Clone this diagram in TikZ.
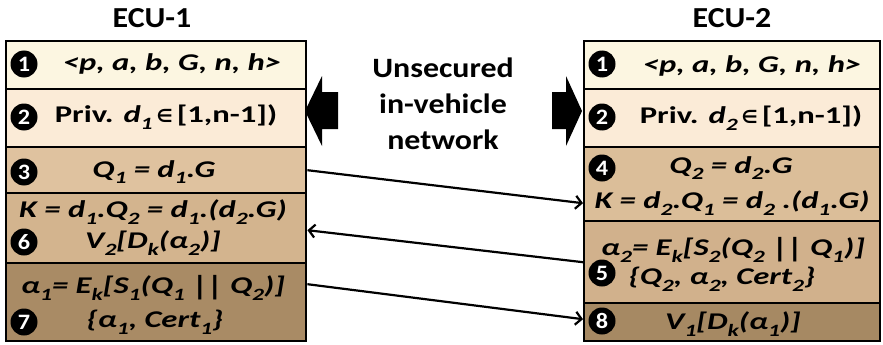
\documentclass[tikz,border=0pt]{standalone}
\usepackage{fontspec}
\setmainfont{Carlito}
\newfontfamily\rowfont[FakeStretch=1.36]{Carlito}
\newfontfamily\ecufont[FakeStretch=1.1]{Carlito}
\newfontfamily\netfont[FakeStretch=1.14]{Carlito}
\newfontfamily\numfont[FakeStretch=1.1]{Carlito}
\newfontfamily\symfont{DejaVu Sans}
\usetikzlibrary{arrows.meta}

% small lowered index, e.g. d\dn{1}
\newcommand{\dn}[1]{\raisebox{-0.28em}{\scalebox{0.72}{#1}}}
\newcommand{\elem}{{\symfont\bfseries\scalebox{0.75}{∈}}}
% concatenation bars
\newcommand{\cat}{{\upshape\raisebox{-0.1em}{\scalebox{1}[1.15]{|\kern-0.5pt|}}}}

\definecolor{rowA}{HTML}{FCF6E1}
\definecolor{rowB}{HTML}{FBEBD7}
\definecolor{rowC}{HTML}{DFC29F}
\definecolor{rowD}{HTML}{D3B48E}
\definecolor{rowE}{HTML}{A98B65}
\definecolor{rowF}{HTML}{DBBE99}
\definecolor{rowG}{HTML}{D1B18C}
\definecolor{rowH}{HTML}{A68963}

\tikzset{
  rowbox/.style={draw=black, line width=2.4pt, rectangle, inner sep=0pt, anchor=north west},
  num/.style={circle, fill=black, text=white, inner sep=0pt, minimum size=27pt,
    font=\numfont\fontsize{22}{22}\selectfont\bfseries},
  txt/.style={font=\rowfont\fontsize{24}{26}\selectfont\bfseries\itshape, inner sep=0pt, text=black},
  ecu/.style={font=\ecufont\fontsize{29}{29}\selectfont\bfseries, inner sep=0pt},
  net/.style={font=\netfont\fontsize{28}{36}\selectfont\bfseries, inner sep=0pt, align=center},
  msg/.style={line width=2.2pt, -{Straight Barb[length=6pt,width=13pt,line width=2.2pt]}},
  bigarrow/.style={fill=black},
}

\begin{document}
\begin{tikzpicture}[x=1pt, y=-1pt]
\useasboundingbox (0,0) rectangle (883,345);

% ---- ECU-1 column ----
\node[ecu] (t1) at (152,18) {ECU-1};
\node[rowbox, fill=rowA, minimum width=300pt, minimum height=48pt] (L1) at (5,40) {};
\node[rowbox, fill=rowB, minimum width=300pt, minimum height=58pt] (L2) at (5,88) {};
\node[rowbox, fill=rowC, minimum width=300pt, minimum height=46pt] (L3) at (5,146) {};
\node[rowbox, fill=rowD, minimum width=300pt, minimum height=70pt] (L6) at (5,192) {};
\node[rowbox, fill=rowE, minimum width=300pt, minimum height=78pt] (L7) at (5,262) {};

\node[num] (n1) at (24,64) {1};
\node[num] (n2) at (24,117) {2};
\node[num] (n3) at (24,172) {3};
\node[num] (n6) at (24,242) {6};
\node[num] (n7) at (24,322) {7};

\node[txt] (a1) at (172,64) {<p, a, b, G, n, h>};
\node[txt] (a2) at (166,117) {\upshape Priv. \itshape d\dn{1}\,\elem\,\upshape [1,n-1])};
\node[txt] (a3) at (154,172) {Q\dn{1} = d\dn{1}.G};
\node[txt] (a6a) at (153,212) {K = d\dn{1}.Q\dn{2} = d\dn{1}.(d\dn{2}.G)};
\node[txt] (a6b) at (153,243) {V\dn{2}[D\dn{k}(α\dn{2})]};
\node[txt] (a7a) at (153,288) {α\dn{1}= E\dn{k}[S\dn{1}(Q\dn{1} \cat{} Q\dn{2})]};
\node[txt] (a7b) at (155,322) {\{α\dn{1}, Cert\dn{1}\}};

% ---- ECU-2 column ----
\node[ecu] (t2) at (732,18) {ECU-2};
\node[rowbox, fill=rowA, minimum width=296pt, minimum height=48pt] (R1) at (583,40) {};
\node[rowbox, fill=rowB, minimum width=296pt, minimum height=58pt] (R2) at (583,88) {};
\node[rowbox, fill=rowF, minimum width=296pt, minimum height=74pt] (R4) at (583,146) {};
\node[rowbox, fill=rowG, minimum width=296pt, minimum height=82pt] (R5) at (583,220) {};
\node[rowbox, fill=rowH, minimum width=296pt, minimum height=38pt] (R8) at (583,302) {};

\node[num] (m1) at (602,64) {1};
\node[num] (m2) at (602,117) {2};
\node[num] (m4) at (602,168) {4};
\node[num] (m5) at (602,273) {5};
\node[num] (m8) at (602,321) {8};

\node[txt] (b1) at (752,66) {<p, a, b, G, n, h>};
\node[txt] (b2) at (751,118) {\upshape Priv. \itshape d\dn{2}\,\elem\,\upshape [1,n-1])};
\node[txt] (b4a) at (731,168) {Q\dn{2} = d\dn{2}.G};
\node[txt] (b4b) at (732,203) {K = d\dn{2}.Q\dn{1} = d\dn{2} .(d\dn{1}.G)};
\node[txt] (b5a) at (733,250) {α\dn{2}= E\dn{k}[S\dn{2}(Q\dn{2} \cat{} Q\dn{1})]};
\node[txt] (b5b) at (722,279) {\{Q\dn{2}, α\dn{2}, Cert\dn{2}\}};
\node[txt] (b8) at (733,324) {V\dn{1}[D\dn{k}(α\dn{1})]};

% ---- network between the two units ----
\node[net] (netlbl) at (443,104) {Unsecured\\in-vehicle\\network};

\fill[bigarrow] (305,111) -- (322,76) -- (322,92) -- (338,92) -- (338,129) -- (322,129) -- (322,146) -- cycle;
\fill[bigarrow] (582,111) -- (566,76) -- (566,92) -- (552,92) -- (552,129) -- (566,129) -- (566,146) -- cycle;

% ---- exchanged messages ----
\draw[msg] (L3.east) -- ([yshift=-19pt]R4.west);
\draw[msg] (R5.west) -- ([yshift=-2pt]L6.east);
\draw[msg] ([yshift=18pt]L7.east) -- ([yshift=3pt]R8.west);
\end{tikzpicture}
\end{document}
